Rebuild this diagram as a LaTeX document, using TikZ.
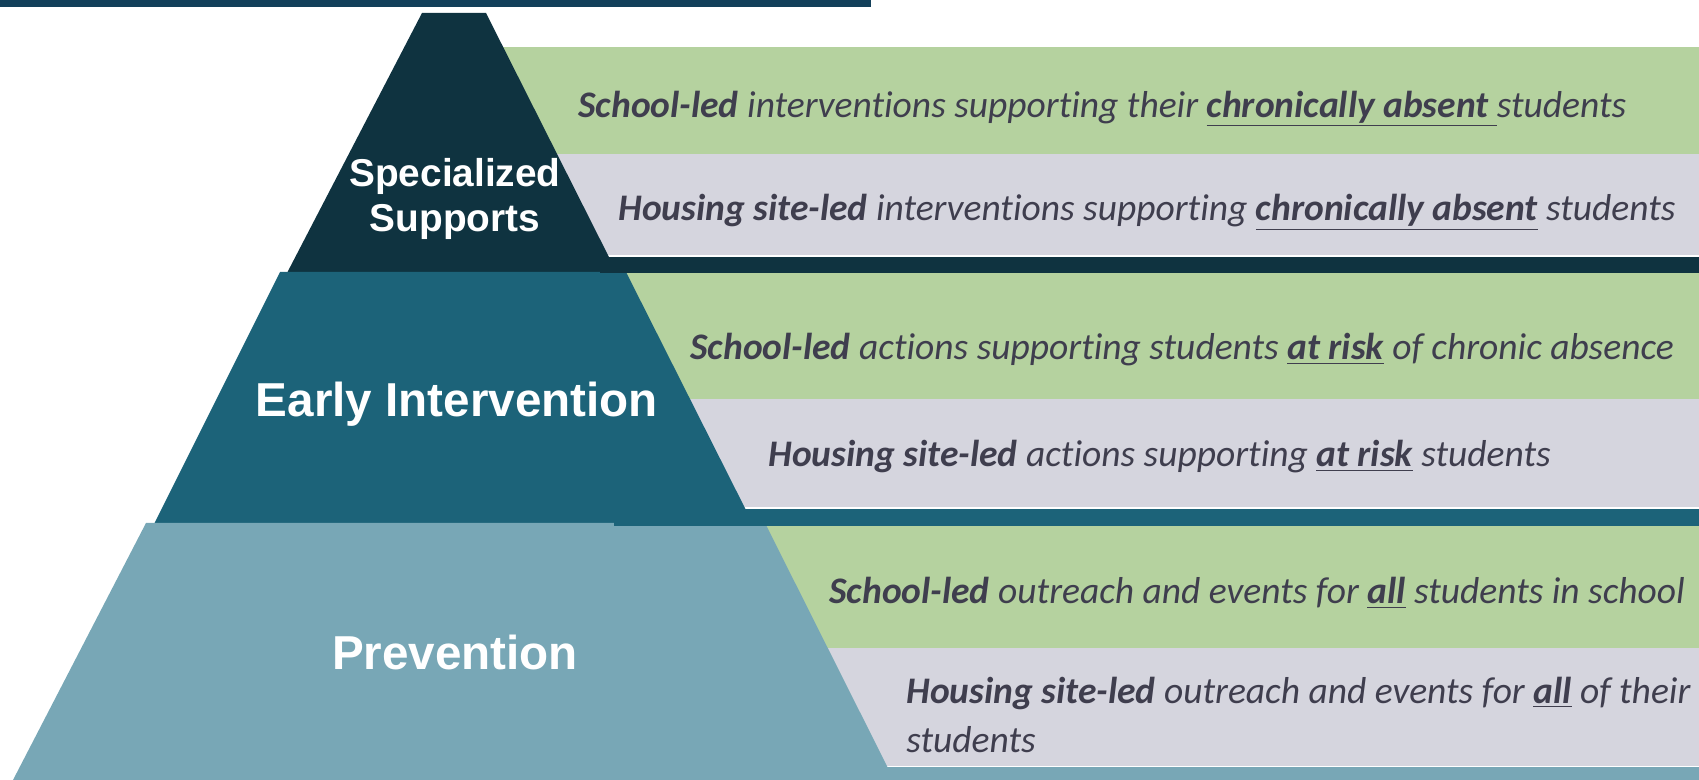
\documentclass[tikz,border=0pt]{standalone}
\usepackage{fontspec}
\setmainfont{Carlito}[Ligatures={NoCommon}]
\newfontfamily\tierfont{Liberation Sans}
\usepackage{tikz}
\usetikzlibrary{positioning}
\definecolor{topbar}{HTML}{13405A}
\definecolor{tierdark}{HTML}{0F3340}
\definecolor{tiermid}{HTML}{1C6379}
\definecolor{tierlight}{HTML}{78A7B6}
\definecolor{rowgreen}{HTML}{B5D29F}
\definecolor{rowgray}{HTML}{D5D5DE}
\definecolor{rowtext}{HTML}{3F3E4E}
\newcommand\rowfont{\fontsize{18.75}{24.5}\selectfont\itshape}
\tikzset{row text/.style={anchor=west,inner sep=0pt,text=rowtext,font=\rowfont,align=left},
  tier label/.style={text=white,inner sep=0pt,align=center},}

\begin{document}
\begin{tikzpicture}[x=0.5pt,y=-0.5pt]
    \useasboundingbox (0,0) rectangle (1699,780);
    \fill[topbar] (0,0) rectangle (871,7);

    % rows behind the pyramid
    \fill[rowgreen] (450,47) rectangle (1699,154);
    \fill[rowgray] (450,154) rectangle (1699,257);
    \fill[rowgreen] (500,273) rectangle (1699,399);
    \fill[rowgray] (500,399) rectangle (1699,509);
    \fill[rowgreen] (600,526) rectangle (1699,648);
    \fill[rowgray] (600,648) rectangle (1699,767);
    \draw[white,line width=1pt] (600,256.5) -- (1699,256.5)
      (700,508.5) -- (1699,508.5) (850,766.5) -- (1699,766.5);

    % pyramid
    \fill[tierdark] (422,13) -- (486,13) -- (617,273) -- (287,273) -- cycle;
    \fill[tiermid] (280,272) -- (626,272) -- (753,524) -- (154,524) -- cycle;
    \fill[tierlight] (146,523) -- (765,523) -- (894,780) -- (13,780) -- cycle;
    \fill[tierdark] (600,257) rectangle (1699,273);
    \fill[tiermid] (614,509) rectangle (1699,526);
    \fill[tierlight] (880,767) rectangle (1699,780);

    \node[tier label,font=\tierfont\bfseries\fontsize{19.4}{22.5}\selectfont] (spec) at (455,199) {Specialized\\Supports};
    \node[tier label,font=\tierfont\bfseries\fontsize{23.8}{28}\selectfont] (early) at (457,404) {Early Intervention};
    \node[tier label,font=\tierfont\bfseries\fontsize{23.8}{28}\selectfont] (prev) at (455,652) {Prevention};

    \node[row text] (school1) at (578,109) {\textbf{School-led} interventions supporting their \underline{\textbf{chronically absent}\ }students};
    \node[row text] (housing1) at (618,212) {\textbf{Housing site-led} interventions supporting \underline{\textbf{chronically absent}} students};
    \node[row text] (school2) at (690,350) {\textbf{School-led} actions supporting students \underline{\textbf{at risk}} of chronic absence};
    \node[row text] (housing2) at (768,457) {\textbf{Housing site-led} actions supporting \underline{\textbf{at risk}} students};
    \node[row text] (school3) at (829,593) {\textbf{School-led} outreach and events for \underline{\textbf{all}} students in school};
    \node[row text] (housing3) at (906,715) {\textbf{Housing site-led} outreach and events for \underline{\textbf{all}} of their\\students};
\end{tikzpicture}
\end{document}
